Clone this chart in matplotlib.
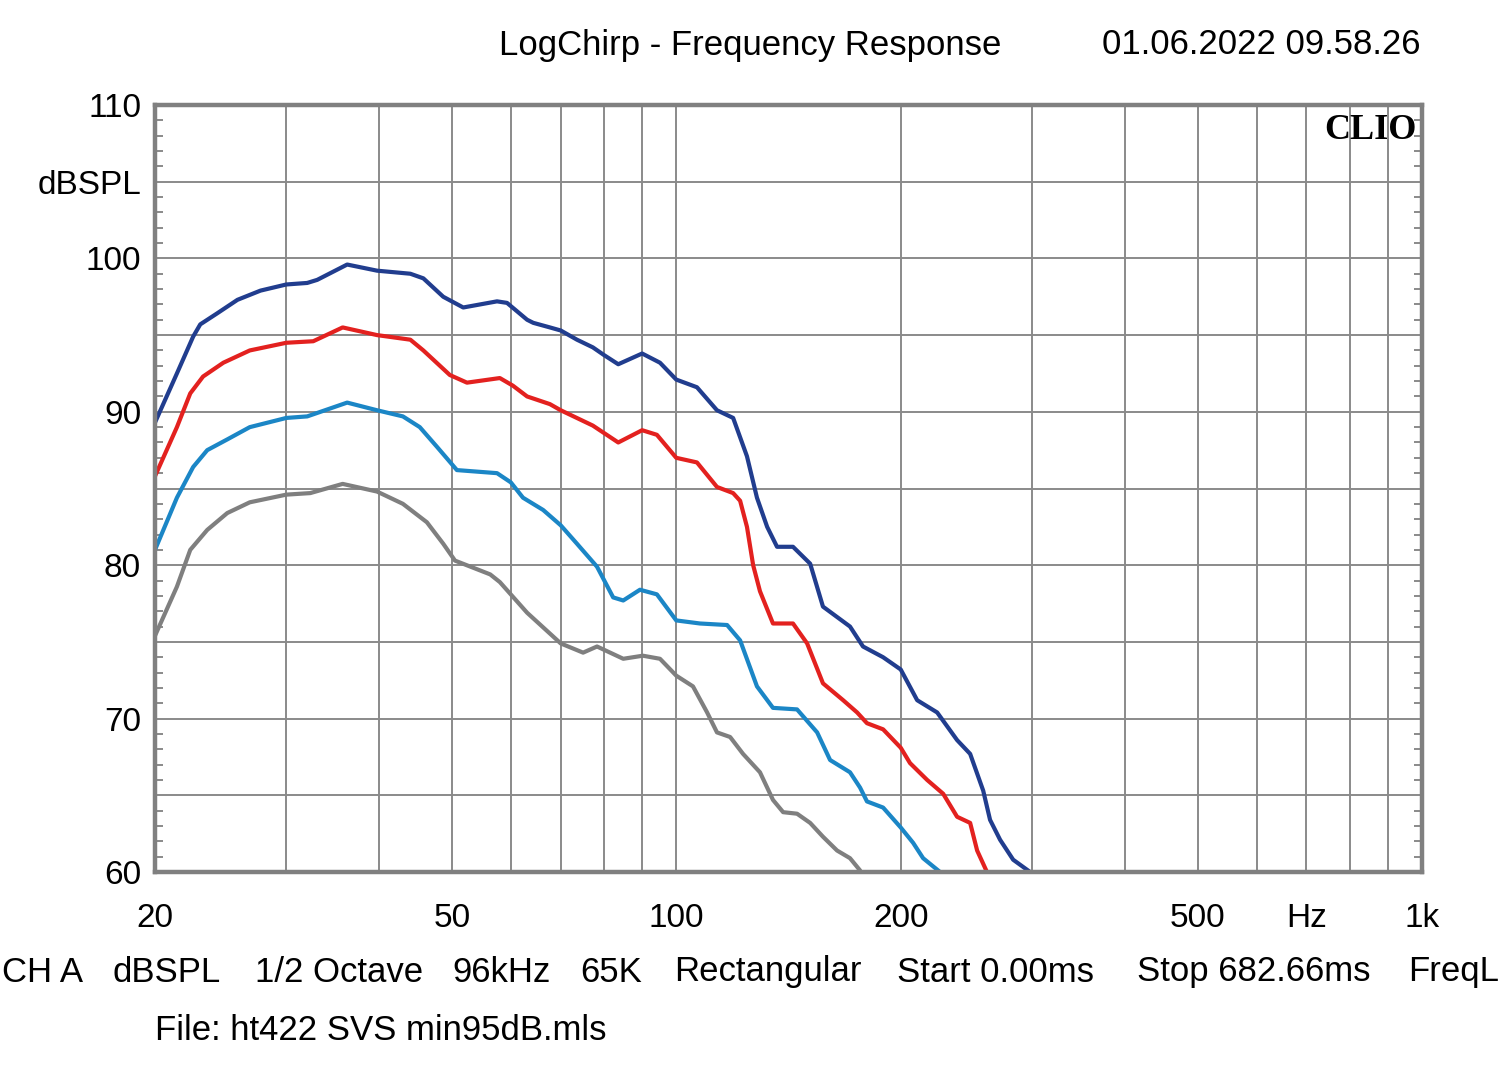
import matplotlib
matplotlib.use('Agg')
import matplotlib.pyplot as plt
from matplotlib.ticker import FixedLocator, NullFormatter
import numpy as np

#-----------------------------------------------------#
# dati (Hz, dBSPL)

freq_navy = [20, 21.4, 22.5, 23.0, 24.2, 25.8, 27.7, 30, 32.0, 33.0, 36.2, 39.7, 44.0, 45.8,
             48.7, 51.8, 57.5, 59.3, 63.1, 64.3, 67.7, 70, 73.6, 77.3, 80, 83.6, 90, 95.1, 100,
             106.6, 113.4, 119.2, 124.4, 128.3, 132.4, 136.5, 143.4, 151.2, 157.3, 171.0, 178.0,
             189.4, 200, 210.4, 223.8, 238, 247.8, 258, 263.5, 271.8, 283, 298.2]
db_navy = [89.3, 92.5, 94.9, 95.7, 96.4, 97.3, 97.9, 98.3, 98.4, 98.6, 99.6, 99.2, 99.0, 98.7,
           97.5, 96.8, 97.2, 97.1, 96.0, 95.8, 95.5, 95.3, 94.7, 94.2, 93.7, 93.1, 93.8, 93.2, 92.1,
           91.6, 90.1, 89.6, 87.1, 84.4, 82.5, 81.2, 81.2, 80.1, 77.3, 76.0, 74.7,
           74.0, 73.2, 71.2, 70.4, 68.6, 67.7, 65.3, 63.4, 62.1, 60.8, 60.0]

freq_red = [20, 21.4, 22.3, 23.2, 24.7, 26.8, 30, 32.6, 35.7, 39.7, 44.0, 45.8, 49.7, 52.4,
            58.0, 60.4, 63.1, 67.7, 70, 77.3, 83.6, 90, 94.2, 100, 106.6, 113.4, 119.2, 121.8,
            124.4, 126.8, 129.5, 134.8, 143.4, 149.8, 157.3, 167.4, 174.8, 180.2, 189.4, 200,
            205.8, 217, 228, 238, 247.8, 253.2, 261]
db_red = [85.8, 89.0, 91.2, 92.3, 93.2, 94.0, 94.5, 94.6, 95.5, 95.0, 94.7, 94.0, 92.4, 91.9,
          92.2, 91.7, 91.0, 90.5, 90.1, 89.1, 88.0, 88.8, 88.5, 87.0, 86.7, 85.1, 84.7, 84.2,
          82.5, 80.0, 78.3, 76.2, 76.2, 74.9, 72.3, 71.2, 70.4, 69.7, 69.3, 68.1,
          67.1, 66.0, 65.1, 63.6, 63.2, 61.4, 60.0]

freq_lblue = [20, 21.4, 22.5, 23.5, 25.0, 26.8, 30, 32.0, 36.2, 39.7, 43.0, 45.3, 47.8, 50.8,
              57.5, 60, 62.3, 66.3, 70, 73.6, 78.3, 82.3, 84.9, 89.4, 94.2, 100, 107.6, 117,
              121.8, 128.3, 134.8, 145.2, 154.5, 160.8, 171.0, 176.4, 180.2, 189.4, 200, 207.8,
              214.3, 225.8]
db_lblue = [81.0, 84.4, 86.4, 87.5, 88.2, 89.0, 89.6, 89.7, 90.6, 90.1, 89.7, 89.0, 87.7, 86.2,
            86.0, 85.4, 84.4, 83.6, 82.6, 81.4, 79.9, 77.9, 77.7, 78.4, 78.1, 76.4, 76.2, 76.1,
            75.1, 72.1, 70.7, 70.6, 69.1, 67.3, 66.5, 65.5, 64.6, 64.2, 62.9, 61.9,
            60.9, 60.0]

freq_gray = [20, 21.4, 22.3, 23.5, 25.0, 26.8, 30, 32.3, 35.7, 39.7, 43.0, 46.3, 48.7, 50.5,
             56.3, 58.0, 63.1, 70, 75.0, 78.3, 84.9, 90.2, 95.1, 100, 105.3, 110, 113.4, 118.1,
             122.9, 129.5, 134.8, 139.1, 145.2, 151.2, 157.3, 164.3, 171.0, 176.4]
db_gray = [75.4, 78.6, 81.0, 82.3, 83.4, 84.1, 84.6, 84.7, 85.3, 84.8, 84.0, 82.8, 81.4, 80.3,
           79.4, 78.9, 76.9, 74.9, 74.3, 74.7, 73.9, 74.1, 73.9, 72.8, 72.1, 70.4, 69.1, 68.8,
           67.7, 66.5, 64.7, 63.9, 63.8, 63.2, 62.3, 61.4, 60.9, 60.1]

x_grid = [20, 30, 40, 50, 60, 70, 80, 90, 100, 200, 300, 400, 500, 600, 700, 800, 900, 1000]
x_labels = {20: '20', 50: '50', 100: '100', 200: '200', 500: '500', 700: 'Hz', 1000: '1k'}
y_labels = {60: '60', 70: '70', 80: '80', 90: '90', 100: '100', 105: 'dBSPL', 110: '110'}

footer_items = [(2, 'CH A'), (113, 'dBSPL'), (255, '1/2 Octave'), (452, '96kHz'), (580, '65K'),
                (674, 'Rectangular'), (897, 'Start 0.00ms'), (1137, 'Stop 682.66ms')]

#-----------------------------------------------------#

W, H = 1500, 1074
FS = 25
plt.rcParams['font.family'] = ['Liberation Sans', 'DejaVu Sans']

fig = plt.figure(figsize=(W / 100, H / 100), dpi=100)
ax = fig.add_axes([155 / W, 1 - 872 / H, (1422 - 155) / W, (872 - 105) / H])

grid_col = '#8a8a8a'

line_kw = dict(lw=3.0, solid_capstyle='round', solid_joinstyle='round')
ax.plot(freq_gray, db_gray, color='#7f7f7f', **line_kw)
ax.plot(freq_lblue, db_lblue, color='#1b86c6', **line_kw)
ax.plot(freq_red, db_red, color='#e3211f', **line_kw)
ax.plot(freq_navy, db_navy, color='#213d8e', **line_kw)

ax.set_xscale('log')
ax.set_xlim(20, 1000)
ax.set_ylim(60, 110)

# griglia
ax.xaxis.set_major_locator(FixedLocator(x_grid))
ax.xaxis.set_minor_locator(FixedLocator([]))
ax.set_xticklabels([x_labels.get(v, '') for v in x_grid])
ax.xaxis.set_minor_formatter(NullFormatter())

y_major = list(range(60, 111, 5))
ax.set_yticks(y_major)
ax.set_yticklabels([y_labels.get(v, '') for v in y_major])
ax.set_yticks([v for v in range(61, 110) if v % 5 != 0], minor=True)

ax.grid(True, which='major', color=grid_col, lw=1.4)
ax.tick_params(axis='both', which='major', length=0, labelsize=24)
ax.tick_params(axis='x', which='major', pad=22)
ax.tick_params(axis='y', which='major', pad=10)
ax.tick_params(axis='y', which='minor', direction='in', length=6, width=1.4,
               color=grid_col, left=True, right=True)

for s in ax.spines.values():
    s.set_color('#808080')
    s.set_linewidth(3.2)

# logo
ax.text(0.996, 0.988, 'CLIO', transform=ax.transAxes, ha='right', va='top',
        fontsize=26, fontweight='bold', family='Liberation Serif')

# titolo e data
fig.text(750 / W, 1 - 45 / H, 'LogChirp - Frequency Response', ha='center', va='center', fontsize=FS)
fig.text(1421 / W, 1 - 45 / H, '01.06.2022 09.58.26', ha='right', va='center', fontsize=FS)

# righe in basso
for xp, txt in footer_items:
    fig.text(xp / W, 1 - 972 / H, txt, ha='left', va='center', fontsize=FS)
fig.text(1499 / W, 1 - 972 / H, 'FreqL', ha='right', va='center', fontsize=FS)
fig.text(155 / W, 1 - 1030 / H, 'File: ht422 SVS min95dB.mls', ha='left', va='center', fontsize=FS)

plt.savefig('out.png', dpi=100)
